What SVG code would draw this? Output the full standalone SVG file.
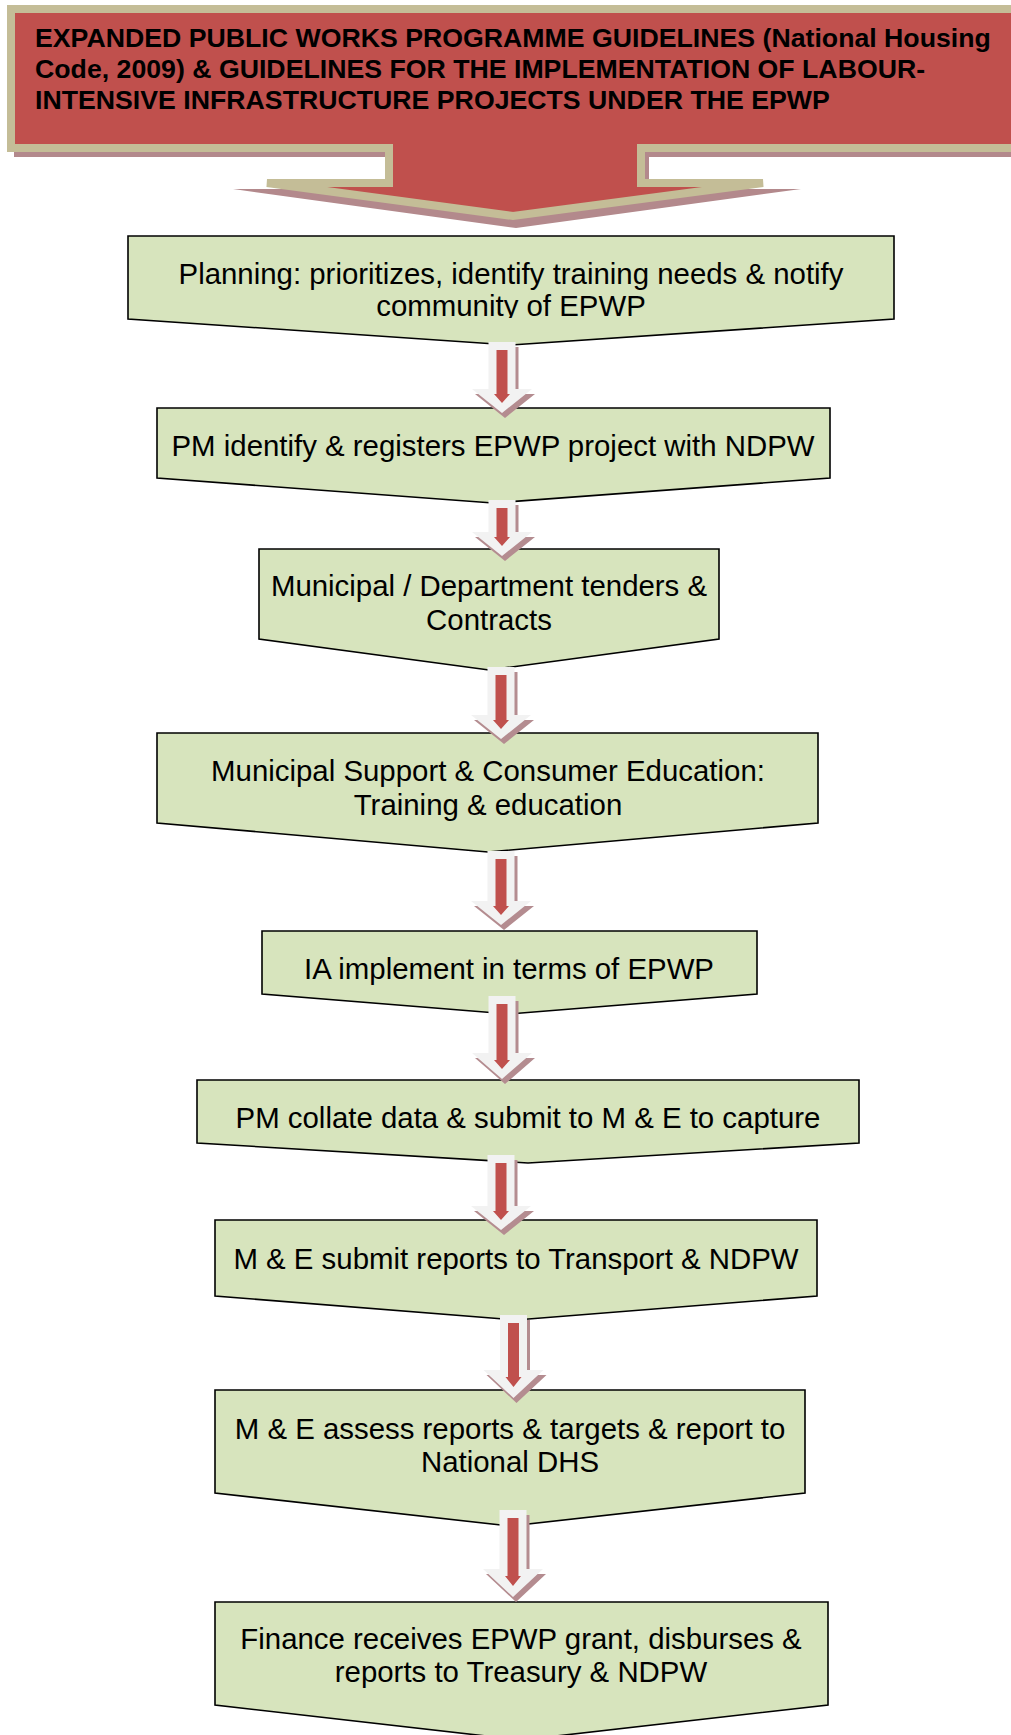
<svg xmlns="http://www.w3.org/2000/svg" width="1011" height="1735" viewBox="0 0 1011 1735">
<defs>
<style>
.box{fill:#D7E4BD;stroke:#000;stroke-width:1.6;stroke-linejoin:miter}
.t{font-family:"Liberation Sans",Arial,sans-serif;font-size:29.4px;fill:#000;text-anchor:middle}
.h{font-family:"Liberation Sans",Arial,sans-serif;font-size:26.7px;font-weight:bold;fill:#000}
.ao{fill:#F2F2F2}
.ai{fill:#C0504D}
.as{fill:#B48C90}
</style>
<clipPath id="clip1"><rect x="128" y="236" width="766" height="82"/></clipPath>
</defs>
<rect width="1011" height="1735" fill="#fff"/>

<g id="header">
<path d="M 14,14 H 1030 V 157 H 649 V 189 H 801 L 516,228 L 233,189 H 392 V 157 H 14 Z" fill="#B3898C"/>
<path d="M 11,9 H 1030 V 148 H 641 V 183 H 763 L 513,216 L 267,183 H 389 V 148 H 11 Z" fill="#C0504D" stroke="#C4BD97" stroke-width="8"/>
<text class="h" x="35" y="47">EXPANDED PUBLIC WORKS PROGRAMME GUIDELINES (National Housing</text>
<text class="h" x="35" y="78">Code, 2009) &amp; GUIDELINES FOR THE IMPLEMENTATION OF LABOUR-</text>
<text class="h" x="35" y="109">INTENSIVE INFRASTRUCTURE PROJECTS UNDER THE EPWP</text>
</g>

<g id="n1">
<polygon class="box" points="128,236 894,236 894,319 511,345 128,319"/>
<text class="t" x="511" y="284">Planning: prioritizes, identify training needs &amp; notify</text>
<text class="t" x="511" y="316" clip-path="url(#clip1)">community of EPWP</text>
</g>
<g id="n2">
<polygon class="box" points="157,408 830,408 830,478 493,503 157,478"/>
<text class="t" x="493" y="456">PM identify &amp; registers EPWP project with NDPW</text>
</g>
<g id="n3">
<polygon class="box" points="259,549 719,549 719,639 489,670 259,639"/>
<text class="t" x="489" y="596">Municipal / Department tenders &amp;</text>
<text class="t" x="489" y="630">Contracts</text>
</g>
<g id="n4">
<polygon class="box" points="157,733 818,733 818,823 488,852 157,823"/>
<text class="t" x="488" y="781">Municipal Support &amp; Consumer Education:</text>
<text class="t" x="488" y="815">Training &amp; education</text>
</g>
<g id="n5">
<polygon class="box" points="262,931 757,931 757,994 509,1014 262,994"/>
<text class="t" x="509" y="979">IA implement in terms of EPWP</text>
</g>
<g id="n6">
<polygon class="box" points="197,1080 859,1080 859,1143 528,1163 197,1143"/>
<text class="t" x="528" y="1128">PM collate data &amp; submit to M &amp; E to capture</text>
</g>
<g id="n7">
<polygon class="box" points="215,1220 817,1220 817,1296 516,1320 215,1296"/>
<text class="t" x="516" y="1269">M &amp; E submit reports to Transport &amp; NDPW</text>
</g>
<g id="n8">
<polygon class="box" points="215,1390 805,1390 805,1493 510,1526 215,1493"/>
<text class="t" x="510" y="1439">M &amp; E assess reports &amp; targets &amp; report to</text>
<text class="t" x="510" y="1472">National DHS</text>
</g>
<g id="n9">
<polygon class="box" points="215,1602 828,1602 828,1705 521,1740 215,1705"/>
<text class="t" x="521" y="1649">Finance receives EPWP grant, disburses &amp;</text>
<text class="t" x="521" y="1682">reports to Treasury &amp; NDPW</text>
</g>

<g id="connectors">
<g id="a1">
<polygon class="as" transform="translate(3,5)" points="488.5,342 515.5,342 515.5,389 532,389 502,413 472,389 488.5,389"/>
<polygon class="ao" points="488.5,342 515.5,342 515.5,389 532,389 502,413 472,389 488.5,389"/>
<polygon class="ai" points="496.5,350 507.5,350 507.5,394 510,394 502,403 494,394 496.5,394"/>
</g>
<g id="a2">
<polygon class="as" transform="translate(3,5)" points="488.5,500 515.5,500 515.5,532 532,532 502,556 472,532 488.5,532"/>
<polygon class="ao" points="488.5,500 515.5,500 515.5,532 532,532 502,556 472,532 488.5,532"/>
<polygon class="ai" points="496.5,508 507.5,508 507.5,537 510,537 502,546 494,537 496.5,537"/>
</g>
<g id="a3">
<polygon class="as" transform="translate(3,5)" points="487.5,667 514.5,667 514.5,715 531,715 501,739 471,715 487.5,715"/>
<polygon class="ao" points="487.5,667 514.5,667 514.5,715 531,715 501,739 471,715 487.5,715"/>
<polygon class="ai" points="495.5,675 506.5,675 506.5,720 509,720 501,729 493,720 495.5,720"/>
</g>
<g id="a4">
<polygon class="as" transform="translate(3,5)" points="487.5,851 514.5,851 514.5,901 531,901 501,925 471,901 487.5,901"/>
<polygon class="ao" points="487.5,851 514.5,851 514.5,901 531,901 501,925 471,901 487.5,901"/>
<polygon class="ai" points="495.5,859 506.5,859 506.5,906 509,906 501,915 493,906 495.5,906"/>
</g>
<g id="a5">
<polygon class="as" transform="translate(3,5)" points="488.5,996 515.5,996 515.5,1053 532,1053 502,1079 472,1053 488.5,1053"/>
<polygon class="ao" points="488.5,996 515.5,996 515.5,1053 532,1053 502,1079 472,1053 488.5,1053"/>
<polygon class="ai" points="496.5,1004 507.5,1004 507.5,1060 510,1060 502,1069 494,1060 496.5,1060"/>
</g>
<g id="a6">
<polygon class="as" transform="translate(3,5)" points="487.5,1155 514.5,1155 514.5,1206 531,1206 501,1230 471,1206 487.5,1206"/>
<polygon class="ao" points="487.5,1155 514.5,1155 514.5,1206 531,1206 501,1230 471,1206 487.5,1206"/>
<polygon class="ai" points="495.5,1163 506.5,1163 506.5,1211 509,1211 501,1220 493,1211 495.5,1211"/>
</g>
<g id="a7">
<polygon class="as" transform="translate(3,5)" points="500,1315 527,1315 527,1370 543.5,1370 513.5,1398 483.5,1370 500,1370"/>
<polygon class="ao" points="500,1315 527,1315 527,1370 543.5,1370 513.5,1398 483.5,1370 500,1370"/>
<polygon class="ai" points="508,1323 519,1323 519,1377 521.5,1377 513.5,1387 505.5,1377 508,1377"/>
</g>
<g id="a8">
<polygon class="as" transform="translate(3,5)" points="499.5,1510 526.5,1510 526.5,1569 543,1569 513,1597 483,1569 499.5,1569"/>
<polygon class="ao" points="499.5,1510 526.5,1510 526.5,1569 543,1569 513,1597 483,1569 499.5,1569"/>
<polygon class="ai" points="507.5,1518 518.5,1518 518.5,1576 521,1576 513,1586 505,1576 507.5,1576"/>
</g>
</g>
</svg>
